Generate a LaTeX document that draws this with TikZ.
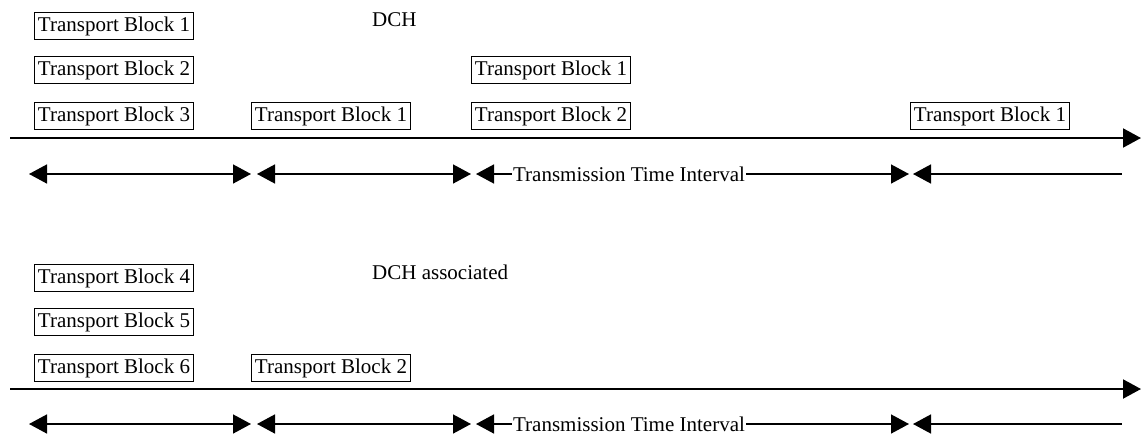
\documentclass[tikz,border=0pt]{standalone}
\usepackage{fontspec}
\setmainfont{Liberation Serif}
\usetikzlibrary{arrows.meta}
\begin{document}
\begin{tikzpicture}[x=1pt,y=-1pt,
		>={Triangle[length=18pt,width=19pt]},
		tblock/.style={draw,line width=1.3pt,inner sep=2pt,minimum width=159pt,minimum height=27pt,font=\fontsize{21}{25}\selectfont},
		lbl/.style={inner sep=1pt,font=\fontsize{21}{25}\selectfont},
		axis/.style={line width=2pt,->},
		span/.style={line width=1.5pt}]
		\useasboundingbox (0,0) rectangle (1141,434);
		% rows of the upper channel
		\def\ra{26}
		\def\rb{70}
		\def\rc{116}
		\def\ax{138}
		\def\ay{174}
		% rows of the lower channel
		\def\rd{278}
		\def\re{322}
		\def\rf{368}
		\def\bx{389}
		\def\by{424}
		%
		% DCH
		\node[lbl,anchor=west] (dch) at (371,20) {DCH};
		\node[tblock] (a1) at (114,\ra) {Transport Block 1};
		\node[tblock] (a2) at (114,\rb) {Transport Block 2};
		\node[tblock] (a3) at (114,\rc) {Transport Block 3};
		\node[tblock] (b1) at (331,\rc) {Transport Block 1};
		\node[tblock] (c1) at (551,\rb) {Transport Block 1};
		\node[tblock] (c2) at (551,\rc) {Transport Block 2};
		\node[tblock] (d1) at (990,\rc) {Transport Block 1};
		\coordinate (ts) at (10,\ax);
		\coordinate (te) at (1141,\ax);
		\draw[axis] (ts) -- (te);
		\coordinate (p1) at (29,\ay);
		\coordinate (p2) at (251,\ay);
		\coordinate (p3) at (257,\ay);
		\coordinate (p4) at (471,\ay);
		\coordinate (p5) at (476,\ay);
		\coordinate (p6) at (909,\ay);
		\coordinate (p7) at (913,\ay);
		\coordinate (p8) at (1122,\ay);
		\node[lbl,fill=white] (tti) at (629,\ay) {Transmission Time Interval};
		\draw[span,<->] (p1) -- (p2);
		\draw[span,<->] (p3) -- (p4);
		\draw[span,<-] (p5) -- (tti);
		\draw[span,->] (tti) -- (p6);
		\draw[span,<-] (p7) -- (p8);
		%
		% DCH associated
		\node[lbl,anchor=west] (dcha) at (371,272) {DCH associated};
		\node[tblock] (a4) at (114,\rd) {Transport Block 4};
		\node[tblock] (a5) at (114,\re) {Transport Block 5};
		\node[tblock] (a6) at (114,\rf) {Transport Block 6};
		\node[tblock] (b2) at (331,\rf) {Transport Block 2};
		\coordinate (us) at (10,\bx);
		\coordinate (ue) at (1141,\bx);
		\draw[axis] (us) -- (ue);
		\coordinate (q1) at (29,\by);
		\coordinate (q2) at (251,\by);
		\coordinate (q3) at (257,\by);
		\coordinate (q4) at (471,\by);
		\coordinate (q5) at (476,\by);
		\coordinate (q6) at (909,\by);
		\coordinate (q7) at (913,\by);
		\coordinate (q8) at (1122,\by);
		\node[lbl,fill=white,inner ysep=0pt] (ttib) at (629,\by) {Transmission Time Interval};
		\draw[span,<->] (q1) -- (q2);
		\draw[span,<->] (q3) -- (q4);
		\draw[span,<-] (q5) -- (ttib);
		\draw[span,->] (ttib) -- (q6);
		\draw[span,<-] (q7) -- (q8);
\end{tikzpicture}
\end{document}
